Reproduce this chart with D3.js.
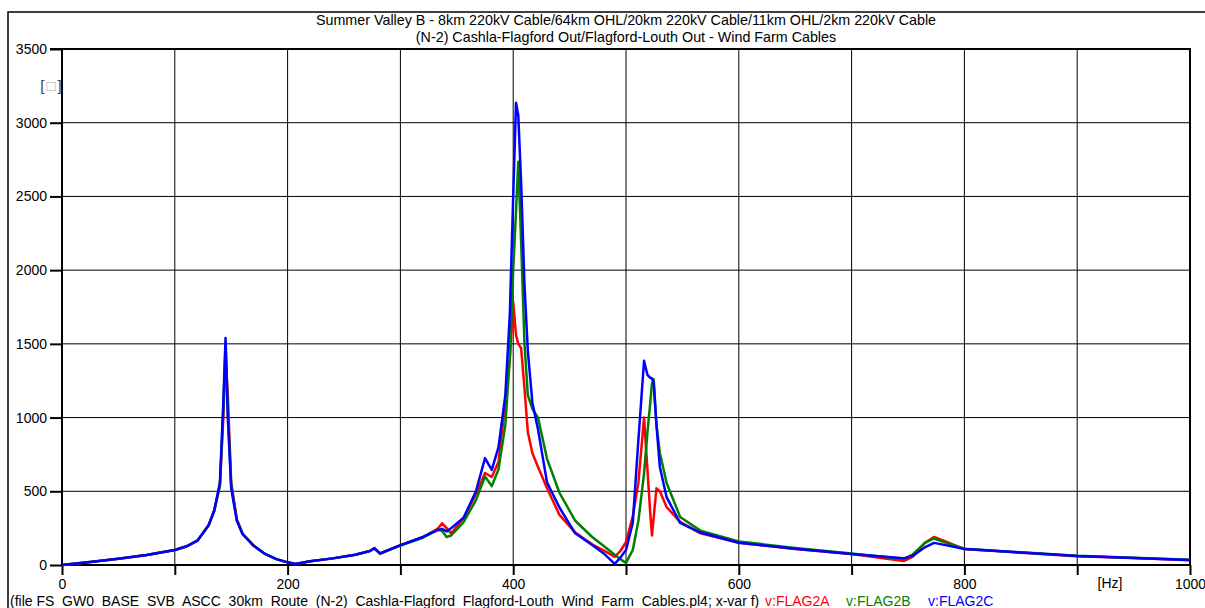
<!DOCTYPE html>
<html>
<head>
<meta charset="utf-8">
<script src="https://cdn.jsdelivr.net/npm/d3@7"></script>
<style>
  body { margin: 0; background: #fff; }
  svg { display: block; font-family: "Liberation Sans", Arial, sans-serif; }
</style>
</head>
<body>
<svg id="chart" width="1205" height="608"></svg>
<script>
// frequency grid shared by the three traces [Hz]
const freq = [0, 25, 50, 75, 100, 110, 120, 130, 135, 140, 143, 145, 147, 150, 155, 160, 170, 180, 190, 200,
  207, 220, 240, 260, 273, 277, 282, 300, 320, 333, 337, 341, 345, 356, 367, 375, 381, 387, 393, 397,
  400, 402.5, 404.5, 407, 410, 413, 417, 422, 430, 441, 455, 470, 480, 490, 495, 500, 506, 511, 516, 519,
  521.5, 523, 524.5, 527, 530, 536, 548, 566, 600, 650, 700, 746, 754, 765, 773, 780, 800, 850, 900, 950, 1000];

// v:FLAG2A (red)
const flag2A = [0, 20, 42, 68, 102, 125, 165, 270, 370, 540, 1000, 1420, 1150, 560, 310, 215, 130, 75, 40, 18,
  7, 25, 45, 70, 95, 112, 78, 135, 190, 245, 283, 250, 215, 318, 480, 624, 597, 700, 1100, 1400,
  1784, 1560, 1500, 1472, 1200, 900, 760, 665, 520, 340, 220, 140, 100, 55, 95, 156, 330, 560, 1000, 650,
  350, 200, 320, 520, 500, 393, 292, 215, 151, 108, 75, 27, 55, 150, 190, 170, 108, 83, 60, 47, 33];

// v:FLAG2B (green)
const flag2B = [0, 20, 42, 68, 102, 125, 165, 270, 370, 540, 1050, 1500, 1050, 540, 305, 212, 130, 75, 40, 18,
  7, 25, 45, 70, 95, 112, 78, 132, 185, 240, 230, 190, 200, 290, 440, 600, 535, 650, 950, 1400,
  2000, 2400, 2735, 2200, 1500, 1150, 1060, 1000, 720, 490, 300, 190, 130, 70, 40, 14, 102, 300, 620, 900,
  1100, 1230, 1260, 950, 760, 556, 326, 233, 160, 115, 78, 40, 70, 150, 180, 160, 110, 86, 62, 49, 36];

// v:FLAG2C (blue)
const flag2C = [0, 20, 42, 68, 102, 125, 165, 270, 370, 560, 1100, 1540, 1000, 520, 300, 210, 130, 75, 40, 18,
  7, 25, 45, 70, 95, 115, 78, 135, 190, 237, 245, 228, 250, 320, 500, 725, 645, 800, 1150, 1700,
  2500, 3135, 3050, 2600, 1900, 1450, 1100, 920, 560, 390, 215, 135, 80, 8, 50, 102, 285, 850, 1385, 1290,
  1270, 1265, 1240, 950, 665, 460, 285, 220, 151, 110, 75, 45, 61, 120, 150, 140, 108, 85, 61, 48, 34];

const xTicks = [0, 100, 200, 300, 400, 500, 600, 700, 800, 900, 1000];
const xLabels = [0, 200, 400, 600, 800, 1000];
const yTicks = [0, 500, 1000, 1500, 2000, 2500, 3000, 3500];

const titleLines = [
  "Summer Valley B - 8km 220kV Cable/64km OHL/20km 220kV Cable/11km OHL/2km 220kV Cable",
  "(N-2) Cashla-Flagford Out/Flagford-Louth Out - Wind Farm Cables"
];
const footer = "(file FS  GW0  BASE  SVB  ASCC  30km  Route  (N-2)  Cashla-Flagford  Flagford-Louth  Wind  Farm  Cables.pl4; x-var f)";

const series = [
  {name: "v:FLAG2A", values: flag2A, color: "#ff0000"},
  {name: "v:FLAG2B", values: flag2B, color: "#008000"},
  {name: "v:FLAG2C", values: flag2C, color: "#0000ff"}
];

const svg = d3.select("#chart");
const W = 1205;

const x = d3.scaleLinear().domain([0, 1000]).range([62, 1190]);
const y = d3.scaleLinear().domain([0, 3500]).range([565, 49]);

// outer frame
svg.append("path")
  .attr("d", `M8,${608 + 5}V12H${W + 5}`)
  .attr("fill", "none").attr("stroke", "#000").attr("stroke-width", 1.5);

// title
svg.append("g").selectAll("text")
  .data(titleLines)
  .join("text")
  .attr("x", 626)
  .attr("y", (d, i) => 25 + i * 17)
  .attr("text-anchor", "middle")
  .attr("font-size", 14.3)
  .text(d => d);

// grid
const grid = svg.append("g").attr("stroke", "#000").attr("stroke-width", 1);
grid.selectAll("line.v")
  .data(xTicks.slice(1, -1))
  .join("line")
  .attr("class", "v")
  .attr("x1", d => x(d)).attr("x2", d => x(d))
  .attr("y1", y(3500)).attr("y2", y(0));
grid.selectAll("line.h")
  .data(yTicks.slice(1, -1))
  .join("line")
  .attr("class", "h")
  .attr("x1", x(0)).attr("x2", x(1000))
  .attr("y1", d => y(d)).attr("y2", d => y(d));

// axes
const yAxis = svg.append("g")
  .attr("transform", `translate(${x(0)},0)`)
  .call(d3.axisLeft(y).tickValues(yTicks).tickSize(12).tickPadding(3).tickFormat(d3.format("d")));
const xAxis = svg.append("g")
  .attr("transform", `translate(0,${y(0)})`)
  .call(d3.axisBottom(x).tickValues(xTicks).tickSize(10).tickPadding(4)
    .tickFormat(d => xLabels.includes(d) ? d : ""));
[yAxis, xAxis].forEach(a => {
  a.select(".domain").remove();
  a.selectAll(".tick line").attr("stroke", "#000").attr("stroke-width", 2);
  a.selectAll(".tick text").attr("fill", "#000")
    .style("font-family", "'Liberation Sans', Arial, sans-serif").style("font-size", "14px");
});

// plot border (left, bottom, top, right)
svg.append("path")
  .attr("d", `M${x(0) - 12},${y(3500)}H${x(1000)}V${y(0)}H${x(0)}V${y(3500)}`)
  .attr("fill", "none").attr("stroke", "#000").attr("stroke-width", 2);

// unit labels
svg.append("text")
  .attr("x", 51).attr("y", 91)
  .attr("text-anchor", "middle").attr("font-size", 15).attr("fill", "#444")
  .html('[<tspan fill="#aaa" dx="2">\u25A1</tspan><tspan dx="2">]</tspan>');
svg.append("text")
  .attr("x", 1110).attr("y", 588)
  .attr("text-anchor", "middle").attr("font-size", 14)
  .text("[Hz]");

// traces
const line = d3.line()
  .x((d, i) => x(freq[i]))
  .y(d => y(d));
svg.append("g").selectAll("path")
  .data(series)
  .join("path")
  .attr("fill", "none")
  .attr("stroke", d => d.color)
  .attr("stroke-width", 2.5)
  .attr("stroke-linejoin", "round")
  .attr("d", d => line(d.values));

// footer
svg.append("text")
  .attr("x", 10).attr("y", 606)
  .attr("font-size", 14)
  .style("white-space", "pre")
  .text(footer);
svg.append("g").selectAll("text")
  .data(series)
  .join("text")
  .attr("x", (d, i) => [765, 846, 928][i])
  .attr("y", 606)
  .attr("font-size", 14)
  .attr("fill", d => d.color)
  .text(d => d.name);
</script>
</body>
</html>
